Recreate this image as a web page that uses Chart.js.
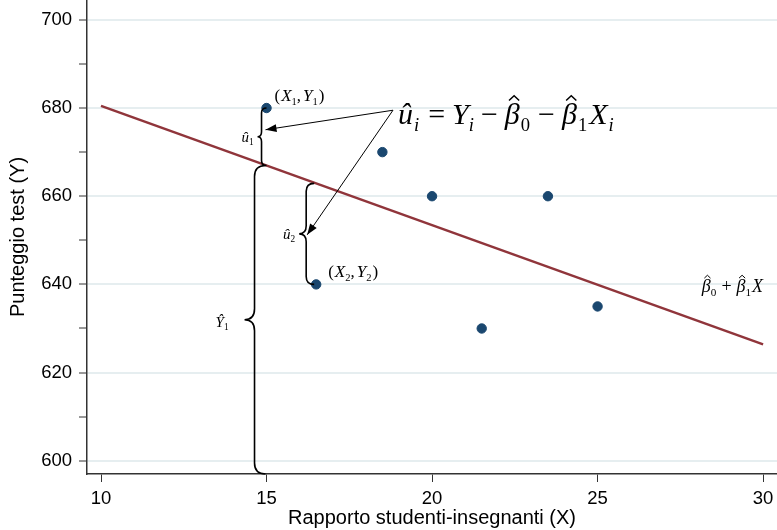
<!DOCTYPE html>
<html>
<head>
<meta charset="utf-8">
<script src="https://cdn.jsdelivr.net/npm/chart.js@4.4.1/dist/chart.umd.min.js"></script>
<style>
  html, body { margin: 0; padding: 0; background: #ffffff; }
  #wrap { width: 777px; height: 530px; }
</style>
</head>
<body>
<div id="wrap"><canvas id="c" width="777" height="530"></canvas></div>
<script>
// ---- data ----
const xTicks = [10, 15, 20, 25, 30];
const yTicks = [600, 610, 620, 630, 640, 650, 660, 670, 680, 690, 700];
const yLabeled = [600, 620, 640, 660, 680, 700];
const pointsX = [15, 16.5, 18.5, 20, 21.5, 23.5, 25];
const pointsY = [680, 640, 670, 660, 630, 660, 635];
const fitX = [10, 30];
const fitY = [680.5, 626.4];
const xTitle = 'Rapporto studenti-insegnanti (X)';
const yTitle = 'Punteggio test (Y)';

const NAVY = '#1a476f';
const MAROON = '#90353b';
const GRID = '#e6eef0';
const SERIF = '"Liberation Serif", "DejaVu Serif", serif';
const SANS = '"Liberation Sans", Arial, sans-serif';

function fitAt(x) {
  return fitY[0] + (fitY[1] - fitY[0]) * (x - fitX[0]) / (fitX[1] - fitX[0]);
}

// rich math text: segments {t, it, sub, hat, gap}
function richWidth(ctx, segs, size) {
  let w = 0;
  for (const s of segs) {
    ctx.font = (s.it ? 'italic ' : '') + (s.sub ? size * 0.62 : size) + 'px ' + SERIF;
    w += ctx.measureText(s.t).width + (s.gap || 0);
  }
  return w;
}
function drawRich(ctx, x, y, segs, size, align) {
  const total = richWidth(ctx, segs, size);
  let cx = align === 'right' ? x - total : (align === 'center' ? x - total / 2 : x);
  ctx.fillStyle = '#000';
  ctx.textBaseline = 'alphabetic';
  ctx.textAlign = 'left';
  for (const s of segs) {
    const fs = s.sub ? size * 0.62 : size;
    ctx.font = (s.it ? 'italic ' : '') + fs + 'px ' + SERIF;
    const w = ctx.measureText(s.t).width;
    const yy = s.sub ? y + size * 0.22 : y;
    ctx.fillText(s.t, cx, yy);
    if (s.hat) {
      const hx = cx + w * 0.62, hy = yy - fs * 0.88;
      ctx.save();
      ctx.strokeStyle = '#000';
      ctx.lineWidth = Math.max(1, fs * 0.05);
      ctx.beginPath();
      ctx.moveTo(hx - fs * 0.17, hy + fs * 0.09);
      ctx.lineTo(hx, hy - fs * 0.07);
      ctx.lineTo(hx + fs * 0.17, hy + fs * 0.09);
      ctx.stroke();
      ctx.restore();
    }
    cx += w + (s.gap || 0);
  }
}

function brace(ctx, x, yTop, yBot, d, r) {
  const ym = (yTop + yBot) / 2;
  ctx.beginPath();
  ctx.moveTo(x + r, yTop);
  ctx.quadraticCurveTo(x, yTop, x, yTop + r);
  ctx.lineTo(x, ym - r);
  ctx.quadraticCurveTo(x, ym, x - d, ym);
  ctx.quadraticCurveTo(x, ym, x, ym + r);
  ctx.lineTo(x, yBot - r);
  ctx.quadraticCurveTo(x, yBot, x + r, yBot);
  ctx.stroke();
  return ym;
}

function arrow(ctx, x0, y0, x1, y1) {
  ctx.beginPath();
  ctx.moveTo(x0, y0);
  ctx.lineTo(x1, y1);
  ctx.stroke();
  const a = Math.atan2(y1 - y0, x1 - x0);
  const L = 11, W = 4;
  ctx.beginPath();
  ctx.moveTo(x1, y1);
  ctx.lineTo(x1 - L * Math.cos(a) + W * Math.sin(a), y1 - L * Math.sin(a) - W * Math.cos(a));
  ctx.lineTo(x1 - L * Math.cos(a) - W * Math.sin(a), y1 - L * Math.sin(a) + W * Math.cos(a));
  ctx.closePath();
  ctx.fill();
}

const annotate = {
  id: 'annotate',
  afterDatasetsDraw(chart) {
    const ctx = chart.ctx;
    const xs = chart.scales.x, ys = chart.scales.y;
    const X = v => xs.getPixelForValue(v);
    const Y = v => ys.getPixelForValue(v);
    ctx.save();
    ctx.strokeStyle = '#000';
    ctx.fillStyle = '#000';
    ctx.lineWidth = 1.6;

    const p1x = X(pointsX[0]), p1y = Y(pointsY[0]);
    const p2x = X(pointsX[1]), p2y = Y(pointsY[1]);
    const l1y = Y(fitAt(pointsX[0]));
    const l2y = Y(fitAt(pointsX[1]));

    // braces
    const b1x = p1x - 5;
    const m1 = brace(ctx, b1x, p1y, l1y, 4, 5);
    const b3x = p1x - 12;
    const m3 = brace(ctx, b3x, l1y, ys.bottom, 10, 11);
    const b2x = p2x - 10;
    const m2 = brace(ctx, b2x, l2y, p2y, 7, 8);

    // arrows
    ctx.lineWidth = 1;
    const ax = X(18.82), ay = Y(679.5);
    arrow(ctx, ax, ay, b1x + 4, m1 - 7);
    arrow(ctx, ax, ay, b2x + 1, m2 + 1);

    // labels
    drawRich(ctx, p1x + 8, p1y - 7, [
      {t: '(', gap: 1}, {t: 'X', it: true}, {t: '1', sub: true}, {t: ',', gap: 2}, {t: 'Y', it: true}, {t: '1', sub: true, gap: 1}, {t: ')'}
    ], 17, 'left');
    drawRich(ctx, p2x + 12, p2y - 7, [
      {t: '(', gap: 1}, {t: 'X', it: true}, {t: '2', sub: true}, {t: ',', gap: 2}, {t: 'Y', it: true}, {t: '2', sub: true, gap: 1}, {t: ')'}
    ], 17, 'left');
    drawRich(ctx, b1x - 8, m1 + 5, [{t: 'û', it: true}, {t: '1', sub: true}], 15, 'right');
    drawRich(ctx, b2x - 11, m2 + 5, [{t: 'û', it: true}, {t: '2', sub: true}], 15, 'right');
    drawRich(ctx, b3x - 26, m3 + 7, [{t: 'Ŷ', it: true}, {t: '1', sub: true}], 15, 'right');

    drawRich(ctx, ax + 5, ay + 14, [
      {t: 'û', it: true, gap: 1}, {t: 'i', it: true, sub: true, gap: 9},
      {t: '=', gap: 7}, {t: 'Y', it: true}, {t: 'i', it: true, sub: true, gap: 7},
      {t: '−', gap: 7}, {t: 'β', it: true, hat: true, gap: 1}, {t: '0', sub: true, gap: 8},
      {t: '−', gap: 7}, {t: 'β', it: true, hat: true, gap: 1}, {t: '1', sub: true, gap: 2}, {t: 'X', it: true, gap: 1}, {t: 'i', it: true, sub: true}
    ], 30, 'left');

    drawRich(ctx, X(30), Y(638.2), [
      {t: 'β', it: true, hat: true}, {t: '0', sub: true, gap: 5}, {t: '+', gap: 5},
      {t: 'β', it: true, hat: true}, {t: '1', sub: true, gap: 1}, {t: 'X', it: true}
    ], 18, 'right');
    ctx.restore();
  }
};

const scatterData = pointsX.map((x, i) => ({x: x, y: pointsY[i]}));
const fitData = fitX.map((x, i) => ({x: x, y: fitY[i]}));

new Chart(document.getElementById('c'), {
  type: 'scatter',
  data: {
    datasets: [
      {
        type: 'line',
        data: fitData,
        borderColor: MAROON,
        borderWidth: 2.5,
        pointRadius: 0,
        fill: false,
        order: 2
      },
      {
        type: 'scatter',
        data: scatterData,
        backgroundColor: NAVY,
        borderColor: NAVY,
        pointRadius: 4.7,
        pointHoverRadius: 4.7,
        order: 1
      }
    ]
  },
  options: {
    responsive: false,
    animation: false,
    devicePixelRatio: 1,
    layout: { padding: 0, autoPadding: false },
    plugins: { legend: { display: false }, tooltip: { enabled: false }, title: { display: false } },
    scales: {
      x: {
        type: 'linear',
        min: 9.577,
        max: 30.42,
        afterBuildTicks: s => { s.ticks = xTicks.map(v => ({value: v})); },
        afterFit: s => { s.height = 56; s.paddingLeft = 0; s.paddingRight = 0; },
        border: { display: true, color: '#333', width: 1.5 },
        grid: { drawOnChartArea: false, drawTicks: true, tickLength: 8, tickColor: '#333', tickWidth: 1 },
        ticks: { color: '#000', padding: 6, font: { family: SANS, size: 18.5 }, maxRotation: 0 },
        title: { display: true, text: xTitle, color: '#000', padding: { top: 0, bottom: 0 }, font: { family: SANS, size: 20 } }
      },
      y: {
        type: 'linear',
        min: 597,
        max: 704.5,
        afterBuildTicks: s => { s.ticks = yTicks.map(v => ({value: v})); },
        afterFit: s => { s.width = 87; s.paddingTop = 0; s.paddingBottom = 0; },
        border: { display: true, color: '#333', width: 1.5 },
        grid: {
          drawOnChartArea: true,
          drawTicks: true,
          tickLength: 8,
          lineWidth: 2,
          tickWidth: 1,
          color: c => (c.tick && yLabeled.includes(c.tick.value)) ? GRID : 'rgba(0,0,0,0)',
          tickColor: '#333'
        },
        ticks: {
          color: '#000',
          padding: 7,
          font: { family: SANS, size: 18.5 },
          callback: v => yLabeled.includes(v) ? String(v) : ''
        },
        title: { display: true, text: yTitle, color: '#000', padding: { top: 6, bottom: 0 }, font: { family: SANS, size: 20 } }
      }
    }
  },
  plugins: [annotate]
});
</script>
</body>
</html>
